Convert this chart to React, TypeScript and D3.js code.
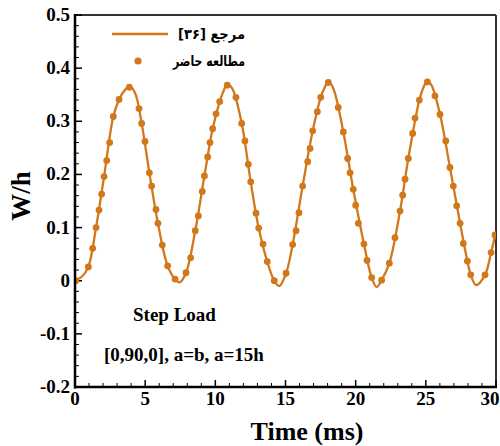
import React from "react";
import * as d3 from "d3";

// Present study markers (t in ms, W/h)
const markerT = [0.05,0.95,1.26,1.50,1.71,1.90,2.07,2.26,2.47,2.73,3.14,3.87,4.56,4.75,4.99,5.30,5.46,5.77,5.91,6.22,6.60,7.13,
  7.91,8.24,8.57,8.79,9.07,9.22,9.45,9.62,9.81,10.05,10.31,10.85,11.47,11.88,12.11,12.35,12.52,12.90,13.09,13.40,13.70,14.20,
  15.04,15.51,15.75,15.96,16.22,16.58,16.75,16.94,17.27,17.51,18.05,18.76,19.12,19.43,19.60,19.83,20.00,20.19,20.59,20.81,21.14,
  21.85,22.40,22.80,23.16,23.35,23.52,23.75,24.06,24.23,24.54,25.11,25.65,26.01,26.42,26.72,26.96,27.20,27.44,27.67,27.96,28.20,
  29.22,29.65,29.93];
const markerW = [0.0,0.026,0.061,0.100,0.133,0.163,0.196,0.226,0.260,0.309,0.341,0.364,0.324,0.296,0.262,0.203,0.178,0.134,0.108,0.067,0.028,0.003,
  0.015,0.043,0.094,0.122,0.168,0.197,0.233,0.260,0.286,0.314,0.337,0.368,0.345,0.296,0.263,0.219,0.186,0.127,0.099,0.069,0.036,0.000,
  0.014,0.068,0.094,0.128,0.178,0.224,0.249,0.282,0.318,0.345,0.373,0.326,0.280,0.230,0.203,0.172,0.142,0.108,0.069,0.038,0.006,
  0.001,0.033,0.081,0.131,0.161,0.191,0.230,0.277,0.306,0.340,0.374,0.348,0.313,0.263,0.213,0.178,0.141,0.108,0.070,0.037,0.011,
  0.011,0.053,0.086];

// Reference [36] line
const lineT = [0,0.5,0.95,1.5,2.07,2.73,3.14,3.5,3.9,4.3,4.75,5.30,5.91,6.60,7.13,7.45,7.91,8.57,9.22,9.81,10.31,10.6,10.85,11.2,11.88,12.52,13.09,13.70,14.2,14.56,15.04,15.51,16.22,16.94,17.51,17.8,18.05,18.4,19.12,19.83,20.59,21.14,21.5,21.85,22.40,23.16,23.75,24.54,24.85,25.1,25.4,26.01,26.72,27.44,27.96,28.2,28.58,29.22,29.65,30];
const lineW = [0,0.008,0.026,0.100,0.196,0.309,0.341,0.357,0.366,0.352,0.296,0.203,0.108,0.028,0.003,-0.003,0.015,0.094,0.197,0.286,0.337,0.358,0.370,0.362,0.296,0.186,0.099,0.036,0.000,-0.010,0.014,0.068,0.178,0.282,0.345,0.364,0.375,0.362,0.280,0.172,0.069,0.006,-0.012,0.001,0.033,0.131,0.230,0.340,0.365,0.376,0.368,0.313,0.213,0.108,0.037,0.011,-0.008,0.011,0.053,0.092];

const xTicks = [0,5,10,15,20,25,30];
const yTicks = [-0.2,-0.1,0,0.1,0.2,0.3,0.4,0.5];

const COLOR = "#D1781A";
const SERIF = "'Liberation Serif', 'Times New Roman', serif";
const ARABIC = "'DejaVu Sans', sans-serif";

export default function App() {
  const left = 75, right = 496, top = 15, bottom = 387;
  const x = d3.scaleLinear().domain([0, 30]).range([left, right]);
  const y = d3.scaleLinear().domain([-0.2, 0.5]).range([bottom, top]);

  const lineGen = d3.line<number>()
    .x((_, i) => x(lineT[i]))
    .y((_, i) => y(lineW[i]))
    .curve(d3.curveCatmullRom.alpha(0.5));
  const path = lineGen(lineT) || "";

  const xMinor = d3.range(0, 31, 1).filter(v => v % 5 !== 0);
  const yMinor = d3.range(-20, 51, 2).filter(v => v % 10 !== 0).map(v => v / 100);

  return (
    <svg width={500} height={446} style={{ position: "absolute", left: 0, top: 0, background: "#fff" }}>
      <defs>
        <clipPath id="plotclip">
          <rect x={left} y={top} width={right - left} height={bottom - top} />
        </clipPath>
      </defs>
      {/* top/right frame */}
      <line x1={left} x2={right} y1={top} y2={top} stroke="#333" strokeWidth={2} />
      <line x1={right} x2={right} y1={top} y2={bottom} stroke="#333" strokeWidth={2} />

      {/* ticks */}
      {xTicks.map(v => (
        <line key={"xt" + v} x1={x(v)} x2={x(v)} y1={bottom} y2={bottom - 7} stroke="#000" strokeWidth={1.5} />
      ))}
      {xMinor.map(v => (
        <line key={"xm" + v} x1={x(v)} x2={x(v)} y1={bottom} y2={bottom - 4} stroke="#000" strokeWidth={1} />
      ))}
      {yTicks.map(v => (
        <line key={"yt" + v} x1={left} x2={left + 7} y1={y(v)} y2={y(v)} stroke="#000" strokeWidth={1.5} />
      ))}
      {yMinor.map(v => (
        <line key={"ym" + v} x1={left} x2={left + 4} y1={y(v)} y2={y(v)} stroke="#000" strokeWidth={1} />
      ))}

      {/* data */}
      <g clipPath="url(#plotclip)">
        <path d={path} fill="none" stroke={COLOR} strokeWidth={2.3} />
        {markerT.map((t, i) => (
          <circle key={"m" + i} cx={x(t)} cy={y(markerW[i])} r={3.4} fill={COLOR} />
        ))}
      </g>

      {/* left & bottom axes */}
      <line x1={left} x2={left} y1={top - 1} y2={bottom + 1.5} stroke="#000" strokeWidth={2.5} />
      <line x1={left - 1} x2={right + 1} y1={bottom} y2={bottom} stroke="#000" strokeWidth={2.5} />

      {/* tick labels */}
      {xTicks.map(v => (
        <text key={"xl" + v} x={v === 30 ? 490 : x(v)} y={405} textAnchor="middle" fontFamily={SERIF} fontWeight="bold" fontSize={19}>{v}</text>
      ))}
      {yTicks.map(v => (
        <text key={"yl" + v} x={70} y={y(v) + 6} textAnchor="end" fontFamily={SERIF} fontWeight="bold" fontSize={19}>{String(Math.round(v * 10) / 10)}</text>
      ))}

      {/* axis titles */}
      <text x={307} y={440} textAnchor="middle" fontFamily={SERIF} fontWeight="bold" fontSize={26}>Time (ms)</text>
      <text transform="translate(30,196) rotate(-90)" textAnchor="middle" fontFamily={SERIF} fontWeight="bold" fontSize={27}>W/h</text>

      {/* legend */}
      <line x1={112} x2={168} y1={34} y2={34} stroke={COLOR} strokeWidth={2.3} />
      <text x={245} y={39} direction="rtl" textAnchor="start" fontFamily={ARABIC} fontWeight="bold" fontSize={14.5} textLength={67} lengthAdjust="spacingAndGlyphs">مرجع [۳۶]</text>
      <circle cx={138} cy={61} r={3.6} fill={COLOR} />
      <text x={245} y={66} direction="rtl" textAnchor="start" fontFamily={ARABIC} fontWeight="bold" fontSize={14.5} textLength={72} lengthAdjust="spacingAndGlyphs">مطالعه حاضر</text>

      {/* annotations */}
      <text x={133} y={321} fontFamily={SERIF} fontWeight="bold" fontSize={19}>Step Load</text>
      <text x={104} y={361} fontFamily={SERIF} fontWeight="bold" fontSize={19}>[0,90,0], a=b, a=15h</text>
    </svg>
  );
}
